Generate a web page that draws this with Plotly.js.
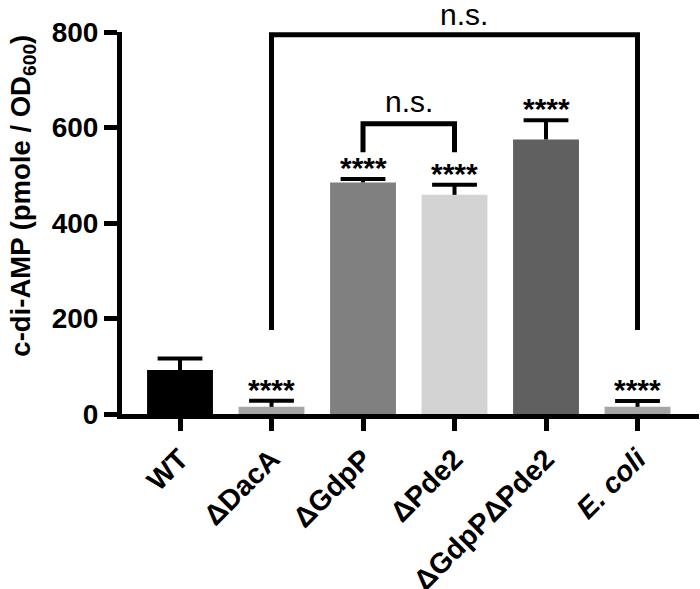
<!DOCTYPE html>
<html>
<head>
<meta charset="utf-8">
<script src="https://cdn.plot.ly/plotly-3.0.1.min.js"></script>
<style>html,body{margin:0;padding:0;background:#fff;}#chart{width:700px;height:589px;}</style>
</head>
<body>
<div id="chart"></div>
<script>
// ---- data ----
var categories = ['WT', 'ΔDacA', 'ΔGdpP', 'ΔPde2', 'ΔGdpPΔPde2', '<i>E. coli</i>'];
var meanValues = [92, 15, 485, 459, 575, 15];
var errorUpper = [24, 13, 7, 21, 40, 12];
var barColors = ['#000000', '#a6a6a6', '#808080', '#d3d3d3', '#606060', '#a6a6a6'];
var significance = ['', '****', '****', '****', '****', '****'];
var yTicks = [0, 200, 400, 600, 800];
// comparison brackets: from index, to index, top value, bottom value, label
var bracketFrom = [1, 2];
var bracketTo = [5, 3];
var bracketTop = [794, 608];
var bracketBottom = [176, 548];
var bracketLabel = ['n.s.', 'n.s.'];

var xIdx = categories.map(function (c, i) { return i; });
var capValues = meanValues.map(function (v, i) { return v + errorUpper[i]; });
var FONT = 'Liberation Sans, Arial, Helvetica, sans-serif';

var bars = {
  type: 'bar',
  x: xIdx,
  y: meanValues,
  width: 0.72,
  marker: { color: barColors, line: { width: 0 } },
  error_y: {
    type: 'data', symmetric: false, array: errorUpper,
    arrayminus: errorUpper.map(function () { return 0; }),
    color: '#000', thickness: 4, width: 0
  },
  hoverinfo: 'skip'
};
// upper caps of the SEM bars (one-sided, GraphPad style)
var caps = {
  type: 'scatter', mode: 'markers',
  x: xIdx, y: capValues,
  marker: { symbol: 'line-ew', size: 32, color: '#000', line: { color: '#000', width: 4 } },
  hoverinfo: 'skip', cliponaxis: false
};

var shapes = [];
var annotations = [];
for (var b = 0; b < bracketFrom.length; b++) {
  shapes.push({
    type: 'path', xref: 'x', yref: 'y',
    path: 'M ' + bracketFrom[b] + ',' + bracketBottom[b] +
          ' L ' + bracketFrom[b] + ',' + bracketTop[b] +
          ' L ' + bracketTo[b] + ',' + bracketTop[b] +
          ' L ' + bracketTo[b] + ',' + bracketBottom[b],
    line: { color: '#000', width: 5 }
  });
  annotations.push({
    xref: 'x', yref: 'y',
    x: (bracketFrom[b] + bracketTo[b]) / 2 + (b === 0 ? 0.1 : 0),
    y: bracketTop[b], yanchor: 'bottom', yshift: b === 0 ? 2 : 4,
    text: bracketLabel[b], showarrow: false,
    font: { family: FONT, size: 30, color: '#000' }
  });
}
for (var i = 0; i < categories.length; i++) {
  if (!significance[i]) continue;
  annotations.push({
    xref: 'x', yref: 'y', x: xIdx[i], y: capValues[i],
    yanchor: 'bottom', yshift: -7,
    text: significance[i], showarrow: false,
    font: { family: FONT, size: 30, color: '#000', weight: 700 }
  });
}
// y axis title
annotations.push({
  xref: 'paper', yref: 'paper', x: -0.172, y: 0.571,
  xanchor: 'center', yanchor: 'middle', textangle: -90,
  text: 'c-di-AMP (pmole / OD<sub>600</sub>)', showarrow: false,
  font: { family: FONT, size: 27.5, color: '#000', weight: 700 }
});

var layout = {
  width: 700, height: 589,
  margin: { l: 122, r: 1, t: 32, b: 175, pad: 0 },
  paper_bgcolor: '#fff', plot_bgcolor: '#fff',
  showlegend: false,
  xaxis: {
    range: [-0.634, 5.672], tickvals: xIdx, ticktext: categories,
    tickangle: -45, ticks: 'outside', ticklen: 12, tickwidth: 5, tickcolor: '#000',
    showline: true, linewidth: 5, linecolor: '#000',
    showgrid: false, zeroline: false, fixedrange: true,
    tickfont: { family: FONT, size: 28.5, color: '#000', weight: 700 }
  },
  yaxis: {
    range: [0, 800], tickvals: yTicks, ticktext: yTicks.map(String),
    ticks: 'outside', ticklen: 13, tickwidth: 5, tickcolor: '#000',
    showline: true, linewidth: 5, linecolor: '#000',
    showgrid: false, zeroline: false, fixedrange: true,
    tickfont: { family: FONT, size: 28, color: '#000', weight: 700 }
  },
  shapes: shapes,
  annotations: annotations
};

Plotly.newPlot('chart', [bars, caps], layout, { staticPlot: true, displayModeBar: false });
</script>
</body>
</html>
